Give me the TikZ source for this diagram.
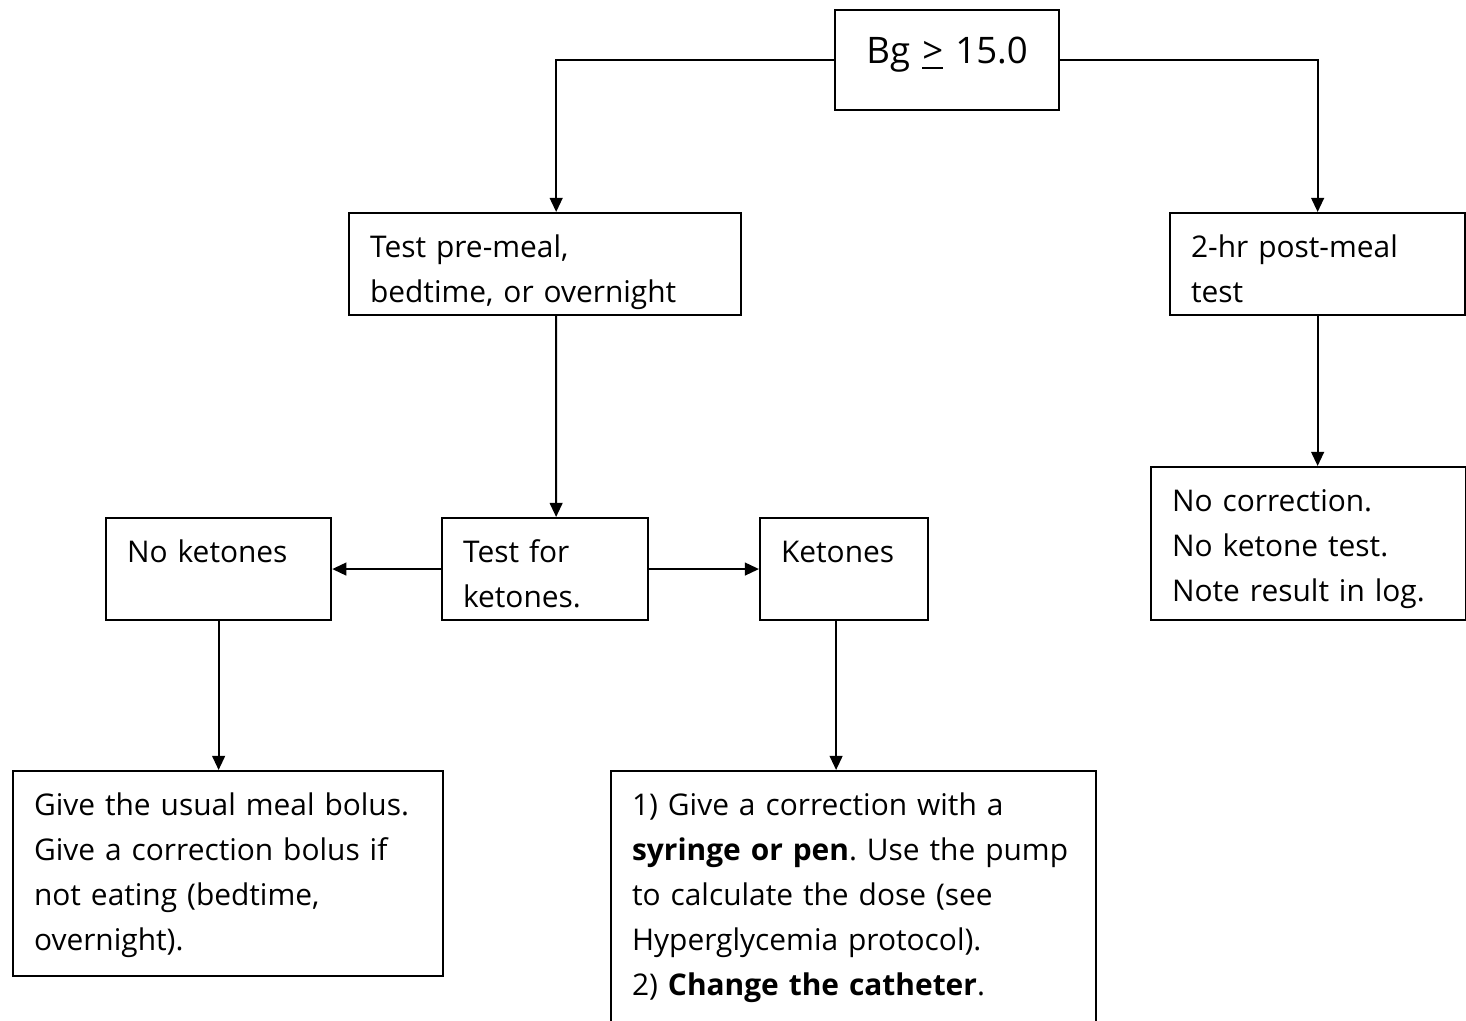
\documentclass[tikz,border=0pt]{standalone}
\usepackage{fontspec}
\setmainfont{Open Sans}
\usetikzlibrary{positioning, arrows.meta}
\frenchspacing

\begin{document}
\begin{tikzpicture}[
		x=0.01cm, y=-0.01cm,
		font=\fontsize{8.5}{12.8}\selectfont,
		box/.style={rectangle, draw, line width=0.6pt, anchor=north west,
			align=left, inner xsep=0.21cm, inner ysep=0pt, text height=12.6pt},
		arr/.style={-{Triangle[length=4pt, width=3.6pt]}, line width=0.6pt}
		]
		\useasboundingbox (0,0) rectangle (1466,1021);

		\node[box, align=center, inner xsep=0pt, text width=2.24cm,
		font=\fontsize{10.4}{13}\selectfont, text height=15.1pt, text depth=13.4pt]
		(bg) at (834,9) {Bg \underline{>} 15.0};

		\node[box, text width=3.5cm, text depth=16.4pt] (premeal) at (348,212)
		{Test pre-meal,\\bedtime, or overnight};
		\node[box, text width=2.53cm, text depth=16.4pt] (post) at (1169,212)
		{2-hr post-meal\\test};

		\node[box, text width=1.64cm, text depth=16.4pt] (tfk) at (441,517)
		{Test for\\ketones.};
		\node[box, text width=1.83cm, text depth=16.4pt] (noket) at (105,517)
		{No ketones};
		\node[box, text width=1.26cm, text depth=16.4pt] (ket) at (759,517)
		{Ketones};
		\node[box, text width=2.73cm, text depth=30.9pt] (nocorr) at (1150,466)
		{No correction.\\No ketone test.\\Note result in log.};

		\node[box, text width=3.88cm, text depth=45.7pt] (usual) at (12,770)
		{Give the usual meal bolus.\\Give a correction bolus if\\not eating (bedtime,\\overnight).};
		\node[box, text width=4.43cm, text depth=61.4pt] (corr) at (610,770)
		{1) Give a correction with a\\\textbf{syringe or pen}. Use the pump\\to calculate the dose (see\\Hyperglycemia protocol).\\2) \textbf{Change the catheter}.};

		\draw[arr] (bg.west) -| ([xshift=0.11cm]premeal.north);
		\draw[arr] (bg.east) -| (post.north);
		\draw[arr] ([xshift=0.11cm]premeal.south) -- ([xshift=0.11cm]tfk.north);
		\draw[arr] (tfk.west) -- (noket.east);
		\draw[arr] (tfk.east) -- (ket.west);
		\draw[arr] (noket.south) -- (noket.south |- usual.north);
		\draw[arr] ([xshift=-0.08cm]ket.south) -- ([xshift=-0.08cm]ket.south |- corr.north);
		\draw[arr] (post.south) -- (post.south |- nocorr.north);
	\end{tikzpicture}
\end{document}
